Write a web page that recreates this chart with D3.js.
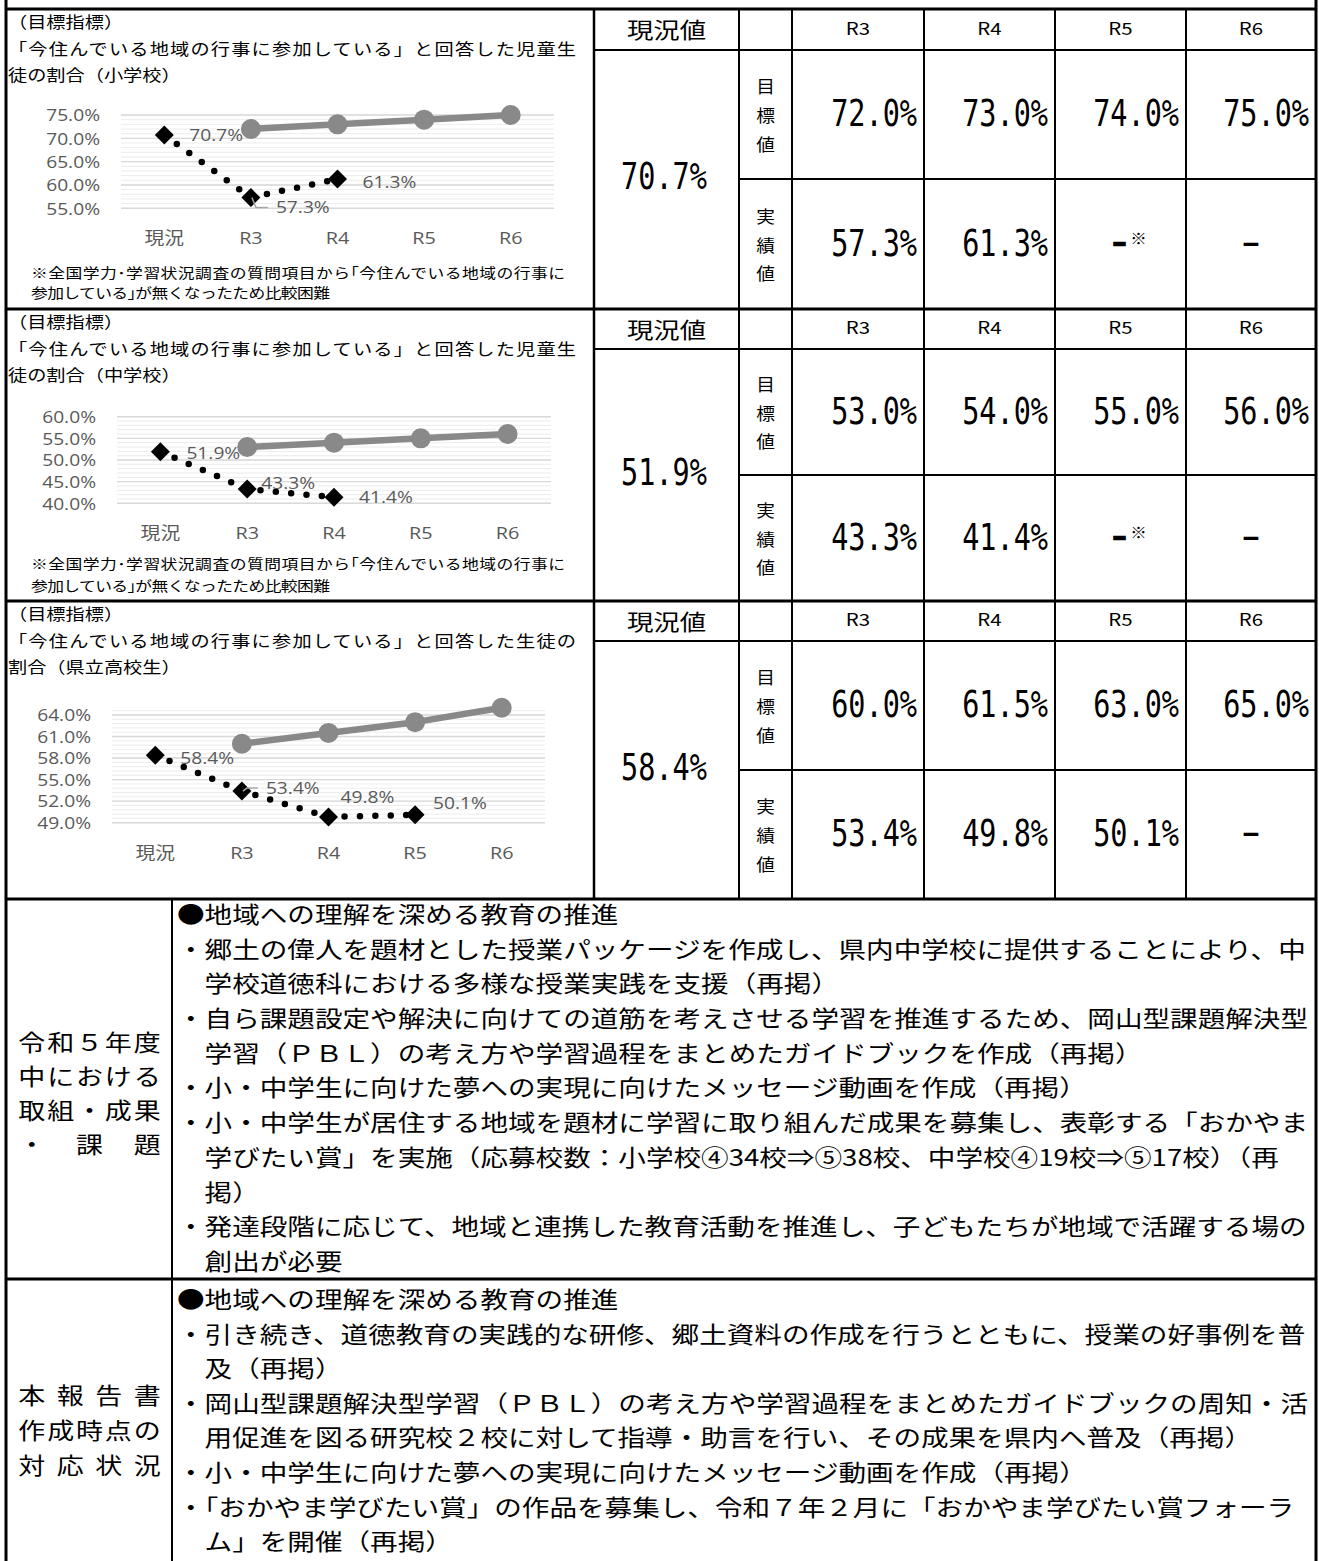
<!DOCTYPE html>
<html><head><meta charset="utf-8">
<script src="https://cdn.jsdelivr.net/npm/d3@7"></script>
<style>html,body{margin:0;padding:0;background:#fff;} svg{display:block}</style>
</head><body><svg id="c" width="1319" height="1561"></svg>
<script>
// ---------------- DATA ----------------
const categories = ["現況", "R3", "R4", "R5", "R6"];
const elemTarget   = [null, 72.0, 73.0, 74.0, 75.0];
const elemActual   = [70.7, 57.3, 61.3, null, null];
const juniorTarget = [null, 53.0, 54.0, 55.0, 56.0];
const juniorActual = [51.9, 43.3, 41.4, null, null];
const highTarget   = [null, 60.0, 61.5, 63.0, 65.0];
const highActual   = [58.4, 53.4, 49.8, 50.1, null];

const elemTicks   = [55, 60, 65, 70, 75];
const juniorTicks = [40, 45, 50, 55, 60];
const highTicks   = [49, 52, 55, 58, 61, 64];

const elemMissing   = ["", "", "−※", "−"];
const juniorMissing = ["", "", "−※", "−"];
const highMissing   = ["", "", "", "−"];

const tableHeader = ["現況値", "", "R3", "R4", "R5", "R6"];
const rowLabels = ["目標値", "実績値"];

const elemTitle   = ["（目標指標）", "「今住んでいる地域の行事に参加している」と回答した児童生", "徒の割合（小学校）"];
const juniorTitle = ["（目標指標）", "「今住んでいる地域の行事に参加している」と回答した児童生", "徒の割合（中学校）"];
const highTitle   = ["（目標指標）", "「今住んでいる地域の行事に参加している」と回答した生徒の", "割合（県立高校生）"];
const surveyNote  = ["※全国学力･学習状況調査の質問項目から｢今住んでいる地域の行事に", "参加している｣が無くなったため比較困難"];

const progressLabel = ["令和５年度", "中における", "取組・成果", "・課題"];
const progressLines = [
  "●地域への理解を深める教育の推進",
  "・郷土の偉人を題材とした授業パッケージを作成し、県内中学校に提供することにより、中",
  "　学校道徳科における多様な授業実践を支援（再掲）",
  "・自ら課題設定や解決に向けての道筋を考えさせる学習を推進するため、岡山型課題解決型",
  "　学習（ＰＢＬ）の考え方や学習過程をまとめたガイドブックを作成（再掲）",
  "・小・中学生に向けた夢への実現に向けたメッセージ動画を作成（再掲）",
  "・小・中学生が居住する地域を題材に学習に取り組んだ成果を募集し、表彰する「おかやま",
  "　学びたい賞」を実施（応募校数：小学校④34校⇒⑤38校、中学校④19校⇒⑤17校）（再",
  "　掲）",
  "・発達段階に応じて、地域と連携した教育活動を推進し、子どもたちが地域で活躍する場の",
  "　創出が必要"
];
const responseLabel = ["本報告書", "作成時点の", "対応状況"];
const responseLines = [
  "●地域への理解を深める教育の推進",
  "・引き続き、道徳教育の実践的な研修、郷土資料の作成を行うとともに、授業の好事例を普",
  "　及（再掲）",
  "・岡山型課題解決型学習（ＰＢＬ）の考え方や学習過程をまとめたガイドブックの周知・活",
  "　用促進を図る研究校２校に対して指導・助言を行い、その成果を県内へ普及（再掲）",
  "・小・中学生に向けた夢への実現に向けたメッセージ動画を作成（再掲）",
  "・「おかやま学びたい賞」の作品を募集し、令和７年２月に「おかやま学びたい賞フォーラ",
  "　ム」を開催（再掲）"
];

// ---------------- DRAW ----------------
const JP = "'Noto Sans CJK JP', sans-serif";
const LAT = "'Open Sans', 'Noto Sans CJK JP', sans-serif";
const MONO = "'DejaVu Sans Mono', monospace";
const svg = d3.select("#c");
svg.append("rect").attr("width", 1319).attr("height", 1561).attr("fill", "#fff");

function txt(p, x, y, s, o = {}) {
  const sx = o.sx ?? 1.2, size = o.size ?? 16;
  const g = p.append("g").attr("transform", `translate(${x},${y}) scale(${sx},1)`);
  const t = g.append("text")
    .attr("font-family", o.font ?? JP).attr("font-size", size)
    .attr("fill", o.fill ?? "#000").attr("text-anchor", o.anchor ?? "start")
    .attr("xml:space", "preserve").text(s);
  if (o.latin) t.attr("y", size * (o.capMid ?? 0.36));
  else t.attr("dominant-baseline", "central");
  if (o.weight) t.attr("font-weight", o.weight);
  if (o.width) t.attr("textLength", o.width / sx).attr("lengthAdjust", "spacing");
  return t;
}

// ---- charts ----
const charts = [
  { title: elemTitle, target: elemTarget, actual: elemActual, ticks: elemTicks, note: surveyNote,
    top: 9, x0: 121, x1: 554, yTop: 115, yBot: 208.3, domain: [55, 75], major: 5, minor: 1,
    labelRight: 100, xLabelY: 238, noteY: [272, 292],
    labelPos: [[25, 0], [25, 10, true], [25, 3]] },
  { title: juniorTitle, target: juniorTarget, actual: juniorActual, ticks: juniorTicks, note: surveyNote,
    top: 309, x0: 117, x1: 551, yTop: 416.7, yBot: 503.3, domain: [40, 60], major: 5, minor: 1,
    labelRight: 96, xLabelY: 533, noteY: [563, 585],
    labelPos: [[26, 1], [14, -6], [25, 0]] },
  { title: highTitle, target: highTarget, actual: highActual, ticks: highTicks, note: null,
    top: 601, x0: 112, x1: 545, yTop: 707.8, yBot: 822.7, domain: [49, 65], major: 3, minor: 0.6,
    labelRight: 91, xLabelY: 853, noteY: null,
    labelPos: [[25, 3], [24, -3, true], [12, -20], [18, -12]] }
];

charts.forEach(c => {
  const g = svg.append("g");
  const ty = [12, 39, 65];
  c.title.forEach((t, i) => txt(g, 8, c.top + ty[i], t, { size: 16, width: i === 1 ? 568 : null }));

  const x = d3.scaleBand().domain(categories).range([c.x0, c.x1]);
  const y = d3.scaleLinear().domain(c.domain).range([c.yBot, c.yTop]);
  const cx = d => x(d) + x.bandwidth() / 2;

  const minorVals = d3.range(c.domain[0], c.domain[1] + 1e-6, c.minor);
  const majorVals = d3.range(c.domain[0], c.domain[1] + 1e-6, c.major);
  g.selectAll(".mn").data(minorVals).join("line")
    .attr("x1", c.x0).attr("x2", c.x1).attr("y1", d => y(d)).attr("y2", d => y(d))
    .attr("stroke", "#ececec").attr("stroke-width", 1);
  g.selectAll(".mj").data(majorVals).join("line")
    .attr("x1", c.x0).attr("x2", c.x1).attr("y1", d => y(d)).attr("y2", d => y(d))
    .attr("stroke", "#d9d9d9").attr("stroke-width", 1.4);

  const ay = g.append("g").attr("transform", `translate(${c.labelRight},0)`)
    .call(d3.axisLeft(y).tickValues(c.ticks).tickSize(0).tickPadding(0).tickFormat(d => d3.format(".1f")(d) + "%"));
  ay.select(".domain").remove();
  ay.selectAll("text").attr("dy", 0).attr("y", 16 * 0.36).attr("x", 0)
    .attr("transform", "scale(1.2,1)").attr("font-family", LAT).attr("font-size", 16).attr("fill", "#595959");

  const ax = g.append("g").attr("transform", `translate(0,${c.xLabelY})`)
    .call(d3.axisBottom(x).tickSize(0).tickPadding(0));
  ax.select(".domain").remove();
  ax.selectAll("text").attr("dy", 0).attr("y", 16.5 * 0.36)
    .attr("transform", "scale(1.2,1)").attr("font-family", LAT).attr("font-size", 16.5).attr("fill", "#595959");

  const tData = categories.map((k, i) => ({ k, v: c.target[i] })).filter(d => d.v != null);
  const line = d3.line().x(d => cx(d.k)).y(d => y(d.v));
  g.append("path").attr("d", line(tData)).attr("fill", "none")
    .attr("stroke", "#898989").attr("stroke-width", 6.5).attr("stroke-linejoin", "round");
  g.selectAll(".tc").data(tData).join("circle")
    .attr("cx", d => cx(d.k)).attr("cy", d => y(d.v)).attr("r", 10).attr("fill", "#898989");

  const aData = categories.map((k, i) => ({ k, v: c.actual[i] })).filter(d => d.v != null);
  g.append("path").attr("d", line(aData)).attr("fill", "none")
    .attr("stroke", "#000").attr("stroke-width", 6.5)
    .attr("stroke-linecap", "round").attr("stroke-dasharray", "0 15.4");
  const dia = d3.symbol().type(d3.symbolSquare).size(180);
  g.selectAll(".ad").data(aData).join("path")
    .attr("d", dia).attr("fill", "#000")
    .attr("transform", d => `translate(${cx(d.k)},${y(d.v)}) rotate(45)`);

  aData.forEach((d, i) => {
    const [dx, dy, leader] = c.labelPos[i];
    const px = cx(d.k), py = y(d.v);
    const lx = px + dx, ly = py + dy;
    if (leader) {
      g.append("polyline")
        .attr("points", [[px + 1, py], [px + 5, ly], [lx - 8, ly]].map(p => p.join(",")).join(" "))
        .attr("fill", "none").attr("stroke", "#a6a6a6").attr("stroke-width", 1.5);
    }
    txt(g, lx, ly, d3.format(".1f")(d.v) + "%", { font: LAT, size: 16, fill: "#595959", latin: true });
  });

  if (c.note) {
    txt(g, 31, c.noteY[0], c.note[0], { size: 14, width: 534 });
    txt(g, 31, c.noteY[1], c.note[1], { size: 14, width: 299 });
  }
});

// ---- tables ----
const cols = [594, 739, 792, 924, 1055, 1186, 1316];
const tables = [
  { top: 9, hdr: 50, split: 179, bot: 309, target: elemTarget, actual: elemActual, missing: elemMissing },
  { top: 309, hdr: 349, split: 475, bot: 601, target: juniorTarget, actual: juniorActual, missing: juniorMissing },
  { top: 601, hdr: 641, split: 770, bot: 899, target: highTarget, actual: highActual, missing: highMissing }
];
const fmt = v => d3.format(".1f")(v) + "%";
tables.forEach(t => {
  const g = svg.append("g");
  const hy = (t.top + t.hdr) / 2 - 1;
  tableHeader.forEach((h, i) => {
    if (!h) return;
    const xc = (cols[i] + cols[i + 1]) / 2;
    if (i === 0) txt(g, xc, hy, h, { size: 22, anchor: "middle" });
    else txt(g, xc, hy, h, { size: 17, anchor: "middle", latin: true, capMid: 0.366 });
  });
  const rows = [[t.hdr, t.split], [t.split, t.bot]];
  rows.forEach((r, ri) => {
    const rc = (r[0] + r[1]) / 2;
    [...rowLabels[ri]].forEach((ch, k) => txt(g, 765.5, rc + (k - 1) * 28.8, ch, { size: 17, sx: 1.1, anchor: "middle" }));
    const vals = ri === 0 ? t.target : t.actual;
    for (let i = 1; i < categories.length; i++) {
      const right = cols[i + 2] - 7;
      const xc = (cols[i + 1] + cols[i + 2]) / 2;
      const v = vals[i];
      if (v != null) {
        txt(g, right, rc - 2, fmt(v), { font: MONO, size: 38, sx: 0.75, anchor: "end", latin: true, capMid: 0.365 });
      } else {
        const m = t.missing[i - 1];
        if (m.startsWith("−")) {
          const hasNote = m.includes("※");
          txt(g, xc - (hasNote ? 1 : 0), rc - 2, "−", { font: MONO, size: 38, sx: hasNote ? 0.62 : 0.75, anchor: "middle", latin: true, capMid: 0.365, weight: hasNote ? "bold" : null });
          if (hasNote) txt(g, xc + 18, rc - 6, "※", { size: 15, sx: 1.1, anchor: "middle" });
        }
      }
    }
  });
  txt(g, 664, (t.hdr + t.bot) / 2 - 4, fmt(t.actual[0]), { font: MONO, size: 38, sx: 0.75, anchor: "middle", latin: true, capMid: 0.365 });
});

// ---- lower rows ----
function labelBlock(lines, ys) {
  lines.forEach((s, li) => {
    const chars = [...s];
    const c0 = 31.8, c1 = 147.2;
    chars.forEach((ch, k) => {
      const xc = chars.length === 1 ? (c0 + c1) / 2 : c0 + (c1 - c0) * k / (chars.length - 1);
      txt(svg, xc, ys[li], ch, { size: 22.5, anchor: "middle" });
    });
  });
}
labelBlock(progressLabel, [1041, 1075, 1109, 1143]);
labelBlock(responseLabel, [1394, 1429, 1464]);
progressLines.forEach((s, i) => txt(svg, 177, 913 + i * 34.7, s, { size: 23 }));
responseLines.forEach((s, i) => txt(svg, 177, 1298 + i * 34.6, s, { size: 23 }));

// ---- borders ----
function hline(y, x1, x2, w) { svg.append("line").attr("x1", x1).attr("x2", x2).attr("y1", y).attr("y2", y).attr("stroke", "#000").attr("stroke-width", w); }
function vline(x, y1, y2, w) { svg.append("line").attr("x1", x).attr("x2", x).attr("y1", y1).attr("y2", y2).attr("stroke", "#000").attr("stroke-width", w); }
vline(6, 0, 1561, 3);
vline(1316, 0, 1561, 3);
[9, 309, 601, 899, 1279].forEach(y => hline(y, 6, 1316, 3));
vline(594, 9, 899, 2.5);
tables.forEach(t => {
  hline(t.hdr, 594, 1316, 2);
  hline(t.split, 739, 1316, 2);
  cols.slice(1, 6).forEach(x => vline(x, t.top, t.bot, 2));
});
vline(172, 899, 1561, 2);
</script></body></html>
